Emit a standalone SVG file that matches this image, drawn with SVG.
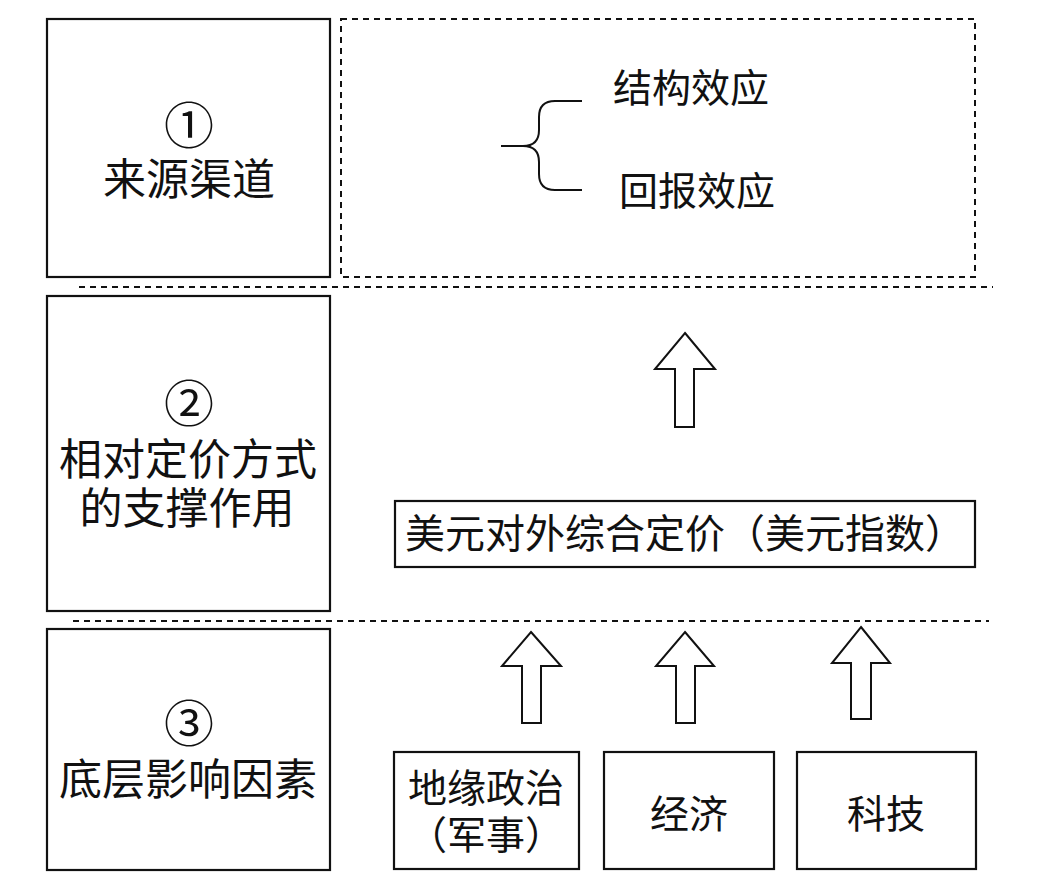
<svg xmlns="http://www.w3.org/2000/svg" width="1041" height="890" viewBox="0 0 1041 890">
<defs>
<style>
.box{fill:#fff;stroke:#111;stroke-width:2.2}
.dbox{fill:none;stroke:#111;stroke-width:2;stroke-dasharray:6 5}
.dline{fill:none;stroke:#111;stroke-width:2;stroke-dasharray:6 5}
.arrow{fill:#fff;stroke:#111;stroke-width:2;stroke-linejoin:miter}
.brace{fill:none;stroke:#111;stroke-width:2}
.t{font-family:"Noto Sans CJK SC","Noto Sans",sans-serif;fill:#111;text-anchor:middle;dominant-baseline:central}
.big{font-size:43px}
.num{font-size:50px}
.mid{font-size:39px}
</style>
</defs>
<rect width="1041" height="890" fill="#fff"/>
<g id="layer1">
<rect class="box" x="47" y="19" width="283" height="258"/>
<text class="t num" x="189" y="122">①</text>
<text class="t big" x="189" y="176">来源渠道</text>
</g>
<g id="effects">
<rect class="dbox" x="341" y="19" width="634" height="258"/>
<text class="t mid" x="691" y="85">结构效应</text>
<text class="t mid" x="697" y="188">回报效应</text>
</g>
<g id="layer2">
<rect class="box" x="47" y="296" width="283" height="315"/>
<text class="t num" x="189" y="400">②</text>
<text class="t big" x="188" y="456">相对定价方式</text>
<text class="t big" x="187" y="505">的支撑作用</text>
</g>
<g id="dollar">
<rect class="box" x="395" y="501" width="580" height="66"/>
<text class="t" font-size="40" x="685" y="531">美元对外综合定价（美元指数）</text>
</g>
<g id="layer3">
<rect class="box" x="47" y="629" width="283" height="241"/>
<text class="t num" x="189" y="720">③</text>
<text class="t big" x="188" y="776">底层影响因素</text>
</g>
<g id="geo">
<rect class="box" x="394" y="752" width="185" height="117"/>
<text class="t mid" x="486" y="785">地缘政治</text>
<text class="t mid" x="486" y="832">（军事）</text>
</g>
<g id="econ">
<rect class="box" x="604" y="752" width="170" height="117"/>
<text class="t mid" x="689" y="811">经济</text>
</g>
<g id="tech">
<rect class="box" x="797" y="752" width="179" height="117"/>
<text class="t mid" x="886" y="811">科技</text>
</g>
<g id="connectors">
<line class="dline" x1="79" y1="287" x2="993" y2="287"/>
<line class="dline" x1="73" y1="621" x2="989" y2="621"/>
<path class="brace" d="M501,146 H523 Q539,146 539,130 V117 Q539,101 555,101 H582 M523,146 Q539,146 539,162 V174 Q539,190 555,190 H582"/>
<polygon class="arrow" points="685,333 715,369 694,369 694,427 675,427 675,369 655,369"/>
<polygon class="arrow" points="531,632 561,666 541,666 541,723 522,723 522,666 502,666"/>
<polygon class="arrow" points="685,632 714,666 695,666 695,723 676,723 676,666 656,666"/>
<polygon class="arrow" points="861,627 890,663 871,663 871,719 851,719 851,663 832,663"/>
</g>
</svg>
